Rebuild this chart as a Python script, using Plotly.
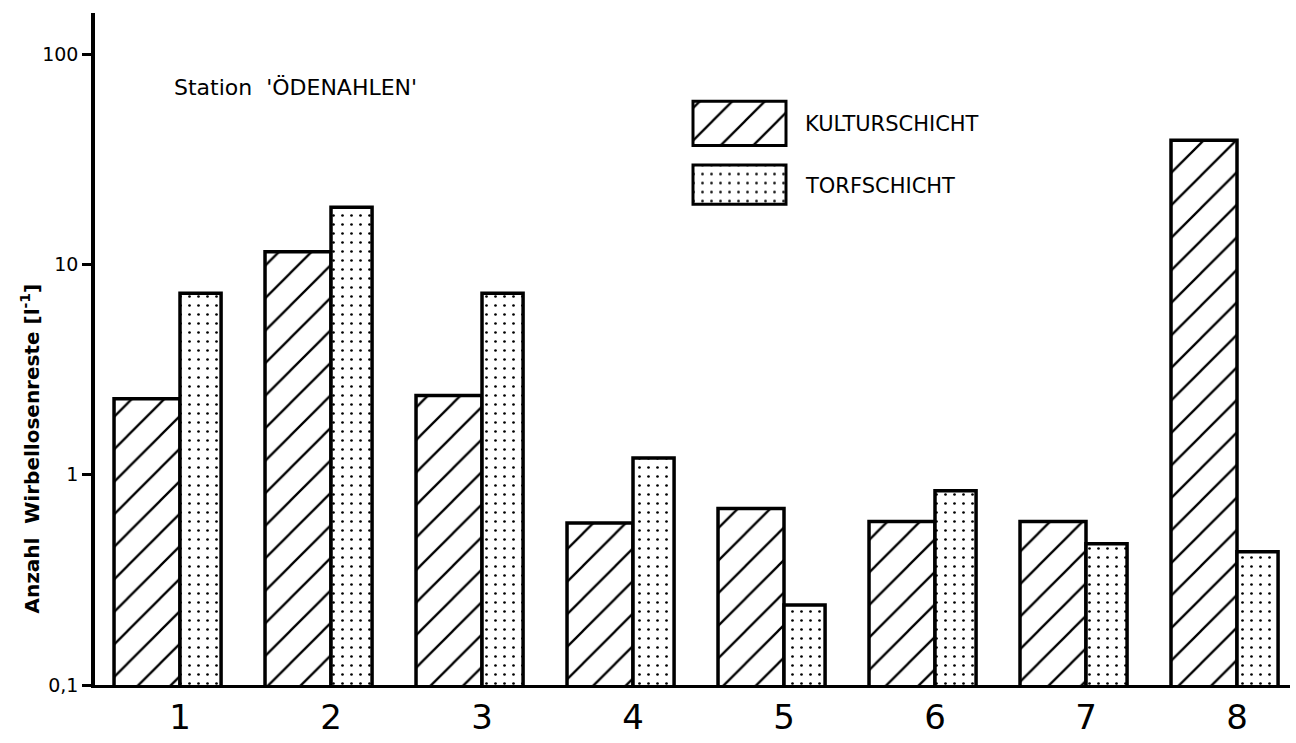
import plotly.graph_objects as go

# Sampling stations and invertebrate remains per litre in both layers
stations = [1, 2, 3, 4, 5, 6, 7, 8]
kulturschicht = [2.3, 11.5, 2.38, 0.59, 0.69, 0.60, 0.60, 39]
torfschicht = [7.3, 18.7, 7.3, 1.2, 0.24, 0.84, 0.47, 0.43]

y_tickvals = [0.1, 1, 10, 100]
y_ticktext = ["0,1", "1", "10", "100"]

series_names = ["KULTURSCHICHT", "TORFSCHICHT"]

W, H = 1296, 743
ML, MR, MT, MB = 95, 6, 13, 45
PW, PH = W - ML - MR, H - MT - MB


def px_to_paper(px, py):
    """Convert page pixel coordinates to paper coordinates."""
    return (px - ML) / PW, (H - MB - py) / PH


FONT = "DejaVu Sans"
OUTLINE = dict(color="black", width=3.5)
HATCH = dict(shape="/", size=23, solidity=0.1, fgcolor="black", fgopacity=1,
             bgcolor="white", fillmode="overlay")
DOTS = dict(shape=".", size=9, solidity=0.07, fgcolor="black", fgopacity=1,
            bgcolor="white", fillmode="overlay")

fig = go.Figure()

# Hatched bars sit left of each station number, dotted bars right of it
fig.add_trace(go.Bar(
    x=stations, y=kulturschicht, name=series_names[0],
    offset=-0.437, width=0.437,
    marker=dict(color="white", line=OUTLINE, pattern=HATCH),
    showlegend=False,
))
fig.add_trace(go.Bar(
    x=stations, y=torfschicht, name=series_names[1],
    offset=0.0, width=0.272,
    marker=dict(color="white", line=OUTLINE, pattern=DOTS),
    showlegend=False,
))

# Key boxes on a small inset axis pair whose units are page pixels
KX0, KX1, KY0, KY1 = 680, 1000, 90, 230
kx_dom = [px_to_paper(KX0, 0)[0], px_to_paper(KX1, 0)[0]]
ky_dom = [px_to_paper(0, KY1)[1], px_to_paper(0, KY0)[1]]
key_y = [H - 125.5, H - 188]
key_h = [45, 40]
for yc, hh, pat in zip(key_y, key_h, [HATCH, DOTS]):
    fig.add_trace(go.Bar(
        x=[93], y=[yc], base=[693], orientation="h", width=[hh],
        marker=dict(color="white", line=dict(color="black", width=3), pattern=pat),
        xaxis="x2", yaxis="y2", showlegend=False, hoverinfo="skip",
    ))


def label(px, py, text, size, **kw):
    x, y = px_to_paper(px, py)
    d = dict(x=x, y=y, xref="paper", yref="paper", text=text, showarrow=False,
             xanchor="left", yanchor="middle",
             font=dict(family=FONT, size=size, color="black"))
    d.update(kw)
    return d


annotations = [
    label(803, 126, series_names[0], 21),
    label(803, 189, series_names[1], 21),
    label(172, 89, "Station  'ÖDENAHLEN'", 22),
    label(30, 457, "<b>Anzahl  Wirbellosenreste [l<sup>-1</sup>]</b>", 20,
          textangle=-90, xanchor="center"),
]

fig.update_layout(
    width=W, height=H,
    margin=dict(l=ML, r=MR, t=MT, b=MB, pad=0),
    paper_bgcolor="white", plot_bgcolor="white",
    barmode="overlay",
    showlegend=False,
    annotations=annotations,
    xaxis=dict(
        range=[0.437, 8.351],
        tickvals=stations, ticktext=[str(s) for s in stations],
        ticks="", showgrid=False, zeroline=False,
        showline=True, linecolor="black", linewidth=3,
        tickfont=dict(family=FONT, size=34, color="black"),
    ),
    yaxis=dict(
        type="log", range=[-1, 2.196],
        tickvals=y_tickvals, ticktext=y_ticktext,
        ticks="outside", ticklen=9, tickwidth=3, tickcolor="black",
        showgrid=False, zeroline=False,
        showline=True, linecolor="black", linewidth=3.5,
        tickfont=dict(family=FONT, size=19, color="black"),
    ),
    xaxis2=dict(domain=kx_dom, range=[KX0, KX1], visible=False, anchor="y2",
                fixedrange=True),
    yaxis2=dict(domain=ky_dom, range=[H - KY1, H - KY0], visible=False, anchor="x2",
                fixedrange=True),
)

fig.write_html("out.html")
